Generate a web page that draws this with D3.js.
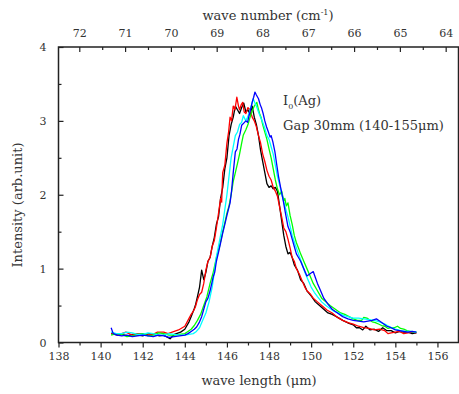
<!DOCTYPE html>
<html><head><meta charset="utf-8">
<script src="https://cdn.jsdelivr.net/npm/d3@7"></script>
<style>
body{margin:0;background:#fff}
text{font-family:"DejaVu Serif","Liberation Serif",serif;fill:#333}
</style></head><body>
<svg id="c" width="459" height="394"></svg>
<script>
// wavelength (µm) / intensity pairs
const black = [[140.5,0.12],[140.8,0.10],[141,0.11],[141.3,0.09],[141.5,0.11],[141.8,0.10],[142,0.09],[142.3,0.12],[142.5,0.11],[142.8,0.09],[143,0.10],[143.3,0.05],[143.5,0.11],[143.8,0.14],[144,0.18],[144.2,0.28],[144.3,0.35],[144.45,0.46],[144.5,0.5],[144.6,0.62],[144.7,0.75],[144.8,0.98],[144.9,0.85],[145.0,0.95],[145.1,1.1],[145.2,1.15],[145.3,1.3],[145.4,1.42],[145.5,1.6],[145.6,1.7],[145.7,1.95],[145.8,2.1],[145.9,2.35],[146.0,2.5],[146.1,2.8],[146.2,2.95],[146.3,3.05],[146.4,3.2],[146.5,3.15],[146.6,3.1],[146.7,3.18],[146.8,3.24],[146.9,3.12],[147.0,3.15],[147.1,3.08],[147.2,3.2],[147.3,3.05],[147.4,2.95],[147.5,2.8],[147.6,2.6],[147.7,2.45],[147.8,2.3],[147.9,2.15],[148.0,2.1],[148.1,2.12],[148.2,2.08],[148.3,2.1],[148.4,2.05],[148.5,1.85],[148.6,1.65],[148.7,1.45],[148.8,1.3],[148.9,1.2],[149.0,1.22],[149.1,1.15],[149.2,1.05],[149.35,0.98],[149.5,0.85],[149.65,0.8],[149.8,0.7],[150.0,0.63],[150.2,0.55],[150.4,0.5],[150.6,0.45],[150.8,0.4],[151,0.38],[151.2,0.35],[151.5,0.3],[151.8,0.26],[152,0.24],[152.15,0.2],[152.3,0.2],[152.45,0.17],[152.6,0.22],[152.8,0.17],[153,0.18],[153.2,0.15],[153.4,0.2],[153.6,0.16],[153.8,0.16],[154.0,0.13],[154.2,0.15],[154.4,0.14],[154.6,0.14],[154.8,0.12],[155,0.13]];
const red = [[140.5,0.13],[140.7,0.11],[141,0.12],[141.2,0.14],[141.5,0.10],[141.7,0.12],[142,0.12],[142.2,0.1],[142.5,0.11],[142.7,0.14],[143,0.14],[143.2,0.12],[143.5,0.15],[143.7,0.17],[144,0.22],[144.15,0.3],[144.3,0.38],[144.4,0.42],[144.5,0.48],[144.6,0.58],[144.7,0.65],[144.8,0.68],[144.9,0.8],[145.0,0.98],[145.1,1.1],[145.2,1.15],[145.3,1.3],[145.4,1.38],[145.5,1.55],[145.6,1.75],[145.7,1.95],[145.75,1.9],[145.8,2.3],[145.9,2.4],[146.0,2.7],[146.08,2.85],[146.15,3.05],[146.22,3.0],[146.3,3.2],[146.38,3.15],[146.47,3.32],[146.55,3.2],[146.6,3.15],[146.68,3.22],[146.75,3.25],[146.82,3.12],[146.9,3.1],[147.0,3.18],[147.1,3.15],[147.2,3.05],[147.3,3.0],[147.4,2.92],[147.5,2.8],[147.6,2.7],[147.7,2.55],[147.8,2.45],[147.9,2.33],[148.0,2.25],[148.1,2.2],[148.2,2.1],[148.3,2.05],[148.4,1.98],[148.5,1.84],[148.6,1.7],[148.7,1.55],[148.8,1.5],[148.9,1.4],[149.0,1.28],[149.1,1.15],[149.2,1.1],[149.3,1.0],[149.45,0.92],[149.55,0.85],[149.7,0.75],[149.8,0.7],[149.95,0.66],[150.1,0.6],[150.3,0.55],[150.5,0.5],[150.75,0.44],[151,0.4],[151.25,0.34],[151.5,0.3],[151.75,0.27],[152,0.25],[152.25,0.22],[152.5,0.2],[152.75,0.19],[153,0.17],[153.25,0.18],[153.5,0.16],[153.65,0.12],[153.8,0.13],[154,0.14],[154.2,0.15],[154.4,0.12],[154.6,0.13],[154.8,0.14],[155,0.13]];
const green = [[140.5,0.10],[140.75,0.12],[141,0.11],[141.25,0.08],[141.5,0.09],[141.75,0.11],[142,0.12],[142.25,0.09],[142.5,0.10],[142.75,0.13],[143,0.12],[143.25,0.1],[143.5,0.10],[143.75,0.11],[144,0.12],[144.15,0.15],[144.3,0.18],[144.45,0.23],[144.6,0.3],[144.75,0.38],[144.9,0.5],[145.05,0.62],[145.2,0.8],[145.35,0.95],[145.5,1.15],[145.65,1.3],[145.8,1.5],[145.9,1.62],[146.0,1.75],[146.1,1.85],[146.2,2.0],[146.3,2.18],[146.4,2.3],[146.5,2.42],[146.6,2.55],[146.7,2.7],[146.78,2.81],[146.9,2.88],[147.0,2.95],[147.1,3.05],[147.18,3.12],[147.3,3.2],[147.42,3.25],[147.5,3.15],[147.55,3.1],[147.62,3.05],[147.7,2.95],[147.8,2.85],[147.9,2.75],[148.0,2.62],[148.1,2.5],[148.2,2.35],[148.3,2.2],[148.4,2.08],[148.5,2.0],[148.6,2.05],[148.7,1.92],[148.75,1.95],[148.82,1.85],[148.9,1.89],[149.0,1.72],[149.1,1.6],[149.2,1.45],[149.3,1.35],[149.4,1.28],[149.5,1.2],[149.65,1.1],[149.8,1.0],[149.95,0.9],[150.1,0.8],[150.3,0.7],[150.5,0.6],[150.7,0.55],[150.9,0.5],[151.05,0.47],[151.2,0.44],[151.4,0.4],[151.6,0.38],[151.8,0.35],[152,0.32],[152.2,0.3],[152.4,0.3],[152.5,0.34],[152.65,0.33],[152.8,0.3],[152.9,0.28],[153.05,0.27],[153.2,0.25],[153.35,0.23],[153.5,0.22],[153.65,0.19],[153.8,0.2],[153.95,0.2],[154.1,0.22],[154.25,0.19],[154.4,0.18],[154.55,0.16],[154.7,0.15],[154.85,0.14],[155,0.14]];
const cyan = [[140.5,0.14],[140.75,0.12],[141,0.12],[141.25,0.14],[141.5,0.13],[141.75,0.11],[142,0.11],[142.25,0.13],[142.5,0.12],[142.75,0.1],[143,0.10],[143.25,0.12],[143.5,0.11],[143.75,0.1],[144,0.10],[144.2,0.11],[144.4,0.12],[144.55,0.15],[144.7,0.2],[144.85,0.3],[145.0,0.4],[145.15,0.55],[145.3,0.75],[145.4,0.95],[145.5,1.16],[145.65,1.38],[145.8,1.6],[145.9,1.8],[146.0,2.0],[146.1,2.25],[146.2,2.5],[146.3,2.65],[146.4,2.8],[146.5,2.85],[146.6,2.95],[146.7,2.98],[146.78,3.07],[146.9,3.0],[146.98,3.05],[147.05,3.1],[147.15,3.2],[147.25,3.30],[147.32,3.25],[147.4,3.2],[147.5,3.12],[147.6,3.05],[147.7,2.98],[147.8,2.9],[147.9,2.8],[148.0,2.75],[148.1,2.65],[148.2,2.55],[148.3,2.4],[148.4,2.25],[148.55,2.08],[148.67,1.93],[148.8,1.8],[148.9,1.7],[149.0,1.58],[149.1,1.45],[149.25,1.32],[149.4,1.2],[149.55,1.08],[149.7,0.95],[149.85,0.85],[150.0,0.75],[150.15,0.68],[150.3,0.62],[150.5,0.55],[150.7,0.5],[150.9,0.46],[151.1,0.42],[151.3,0.4],[151.5,0.37],[151.75,0.35],[152,0.33],[152.25,0.33],[152.5,0.32],[152.75,0.31],[153,0.3],[153.25,0.28],[153.5,0.25],[153.75,0.21],[154,0.18],[154.25,0.16],[154.5,0.15],[154.75,0.15],[155,0.14]];
const blue = [[140.5,0.2],[140.6,0.12],[140.8,0.1],[141,0.09],[141.25,0.1],[141.5,0.08],[141.75,0.09],[142,0.10],[142.25,0.09],[142.5,0.08],[142.75,0.1],[143,0.09],[143.25,0.07],[143.5,0.08],[143.75,0.09],[144,0.10],[144.15,0.12],[144.3,0.15],[144.45,0.18],[144.56,0.21],[144.7,0.28],[144.8,0.35],[144.9,0.45],[145.0,0.55],[145.1,0.6],[145.2,0.7],[145.28,0.8],[145.35,0.89],[145.42,0.95],[145.5,1.1],[145.6,1.22],[145.7,1.35],[145.8,1.48],[145.9,1.6],[146.0,1.72],[146.15,1.89],[146.22,2.05],[146.3,2.3],[146.4,2.58],[146.48,2.62],[146.55,2.75],[146.62,2.82],[146.7,2.94],[146.8,2.97],[146.9,3.0],[146.98,2.98],[147.05,3.07],[147.12,3.15],[147.2,3.25],[147.27,3.32],[147.33,3.39],[147.4,3.35],[147.5,3.3],[147.58,3.22],[147.65,3.17],[147.72,3.1],[147.8,3.0],[147.88,2.92],[147.97,2.85],[148.05,2.78],[148.1,2.8],[148.18,2.72],[148.28,2.58],[148.36,2.42],[148.45,2.25],[148.55,2.1],[148.67,1.93],[148.78,1.75],[148.9,1.57],[149.0,1.5],[149.1,1.4],[149.2,1.3],[149.3,1.2],[149.4,1.15],[149.5,1.1],[149.65,1.0],[149.8,0.9],[149.95,0.93],[150.1,0.96],[150.2,0.88],[150.3,0.8],[150.45,0.7],[150.6,0.6],[150.8,0.52],[151,0.45],[151.25,0.4],[151.5,0.35],[151.75,0.32],[152,0.3],[152.25,0.29],[152.5,0.28],[152.7,0.29],[152.9,0.3],[153.1,0.32],[153.25,0.29],[153.4,0.26],[153.6,0.22],[153.8,0.2],[154.0,0.17],[154.2,0.16],[154.4,0.15],[154.6,0.14],[154.8,0.15],[155,0.14]];

const seriesNames = ["black","red","green","cyan","blue"];
const seriesColors = ["#000000","#ff0000","#00ff00","#00ffff","#0000ff"];
const seriesData = [black, red, green, cyan, blue];

const xTicks = [138,140,142,144,146,148,150,152,154,156];
const topTicks = [72,71,70,69,68,67,66,65,64];
const yTicks = [0,1,2,3,4];

const L=58.5, R=458.5, T=47, B=342.5;
const x = d3.scaleLinear().domain([138,157]).range([L,R]);
const xTop = d3.scaleLinear().domain([72.454,63.72]).range([L,R]);
const y = d3.scaleLinear().domain([0,4]).range([B,T]);

const svg = d3.select("#c");

// curves
const line = d3.line().x(d=>x(d[0])).y(d=>y(d[1]));
seriesData.forEach((s,i)=>{
  svg.append("path").datum(s).attr("d",line).attr("fill","none")
    .attr("stroke",seriesColors[i]).attr("stroke-width",1.3).attr("stroke-linejoin","round");
});

// frame
svg.append("rect").attr("x",L).attr("y",T).attr("width",R-L).attr("height",B-T)
  .attr("fill","none").attr("stroke","#222").attr("stroke-width",1.5);

// bottom axis (outward ticks)
svg.append("g").attr("transform",`translate(0,${B})`)
  .call(d3.axisBottom(x).tickValues(xTicks).tickSize(5).tickPadding(5).tickFormat(d3.format("d")));
svg.append("g").attr("transform",`translate(0,${B})`)
  .call(d3.axisBottom(x).tickValues(d3.range(139,157,2)).tickSize(3).tickFormat(""));

// top axis (inward ticks)
svg.append("g").attr("transform",`translate(0,${T})`)
  .call(d3.axisTop(xTop).tickValues(topTicks).tickSize(-5).tickPadding(10).tickFormat(d3.format("d")));
svg.append("g").attr("transform",`translate(0,${T})`)
  .call(d3.axisTop(xTop).tickValues(d3.range(71.5,63.6,-1)).tickSize(-3).tickFormat(""));

// left axis (inward ticks)
svg.append("g").attr("transform",`translate(${L},0)`)
  .call(d3.axisLeft(y).tickValues(yTicks).tickSize(-5).tickPadding(12).tickFormat(d3.format("d")));
svg.append("g").attr("transform",`translate(${L},0)`)
  .call(d3.axisLeft(y).tickValues([0.5,1.5,2.5,3.5]).tickSize(-3).tickFormat(""));

svg.selectAll(".domain").remove();
svg.selectAll(".tick line").attr("stroke","#222").attr("stroke-width",1.2);
svg.selectAll(".tick text").attr("font-family","DejaVu Serif, serif").attr("font-size",11).attr("fill","#555");

// titles
svg.append("text").attr("x",259).attr("y",385).attr("text-anchor","middle")
  .attr("font-size",13).text("wave length (μm)");
const tt = svg.append("text").attr("x",268).attr("y",20).attr("text-anchor","middle").attr("font-size",13);
tt.append("tspan").text("wave number (cm");
tt.append("tspan").attr("font-size",8).attr("dy",-5).text("-1");
tt.append("tspan").attr("dy",5).text(")");
svg.append("text").attr("transform","translate(22,205) rotate(-90)").attr("text-anchor","middle")
  .attr("font-size",13).text("Intensity (arb.unit)");

// annotation
const a1 = svg.append("text").attr("x",283).attr("y",105).attr("font-size",13);
a1.append("tspan").text("I");
a1.append("tspan").attr("font-size",8).attr("dy",4).text("0");
a1.append("tspan").attr("dy",-4).text("(Ag)");
svg.append("text").attr("x",283).attr("y",130).attr("font-size",13).text("Gap 30mm (140-155μm)");
</script></body></html>
